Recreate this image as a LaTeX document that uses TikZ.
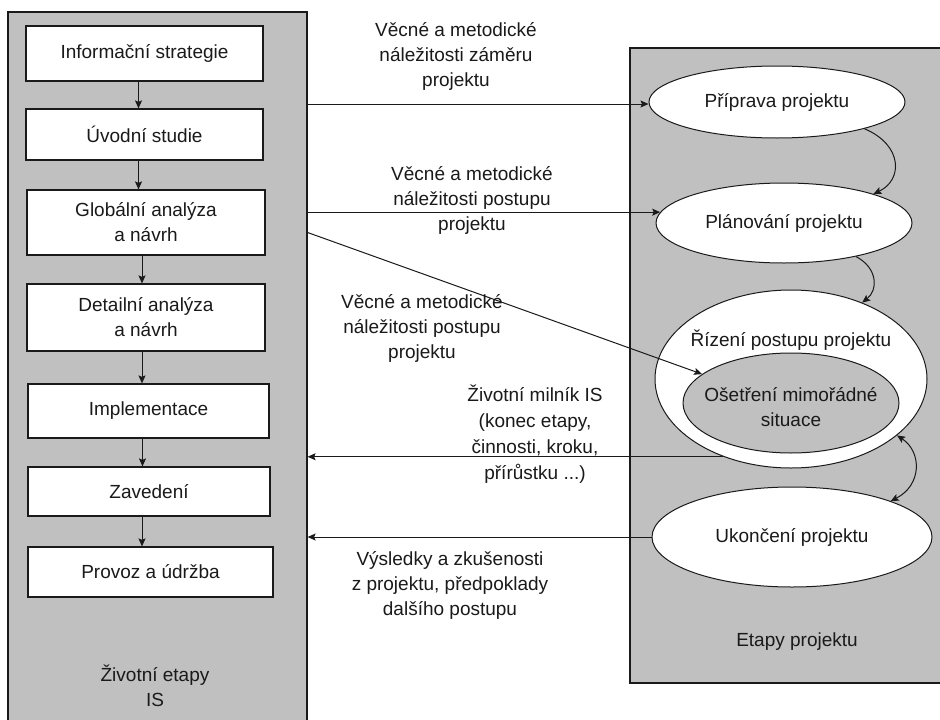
\documentclass[tikz,border=0pt]{standalone}
\usepackage{fontspec}
\setmainfont{Liberation Sans}
\usetikzlibrary{arrows.meta,shapes.geometric}
\definecolor{panelgray}{HTML}{C0C0C0}
\definecolor{ink}{HTML}{1A1A1A}

\begin{document}
\begin{tikzpicture}[x=1pt,y=-1pt,
  >={Stealth[length=8pt,width=7pt,inset=1.5pt]},
  txt/.style={font=\fontsize{19}{25}\selectfont, text=ink, align=center, inner sep=0pt},
  panel/.style={draw=ink, fill=panelgray, line width=1.2pt, inner sep=0pt},
  stage/.style={rectangle, draw=ink, fill=white, line width=1.2pt, txt},
  phase/.style={ellipse, draw=ink, fill=white, line width=1pt, txt},
  conn/.style={draw=ink, line width=1pt, ->},
]
\useasboundingbox (0,0) rectangle (940,720);
\clip (0,0) rectangle (940,720);
\fill[white] (0,0) rectangle (940,720);

% the two grey panels (their lower and right edges run off the page)
\node[panel, minimum width=299pt, minimum height=740pt] (lp) at (157.5,382) {};
\node[panel, minimum width=340pt, minimum height=635pt] (rp) at (800,365.5) {};

% life stages of the information system
\node[stage, minimum width=237pt, minimum height=55pt] (s1) at (144.5,53.5) {Informační strategie};
\node[stage, minimum width=237pt, minimum height=51pt] (s2) at (144.5,134.5) {Úvodní studie};
\node[stage, minimum width=238pt, minimum height=65pt] (s3) at (146,222.5) {Globální analýza\\a návrh};
\node[stage, minimum width=238pt, minimum height=67pt] (s4) at (146,317.5) {Detailní analýza\\a návrh};
\node[stage, minimum width=241pt, minimum height=54pt] (s5) at (148.5,411) {Implementace};
\node[stage, minimum width=242pt, minimum height=49pt] (s6) at (149,491.5) {Zavedení};
\node[stage, minimum width=245pt, minimum height=50pt] (s7) at (150.5,572) {Provoz a údržba};
\node[txt] (lpl) at (155,686) {Životní etapy\\IS};

\draw[conn] ([xshift=-6pt]s1.south) -- ([xshift=-6pt]s1.south |- s2.north);
\draw[conn] ([xshift=-6pt]s2.south) -- ([xshift=-6pt]s2.south |- s3.north);
\draw[conn] ([xshift=-4pt]s3.south) -- ([xshift=-4pt]s3.south |- s4.north);
\draw[conn] ([xshift=-4pt]s4.south) -- ([xshift=-4pt]s4.south |- s5.north);
\draw[conn] ([xshift=-6pt]s5.south) -- ([xshift=-6pt]s5.south |- s6.north);
\draw[conn] ([xshift=-7pt]s6.south) -- ([xshift=-7pt]s6.south |- s7.north);

% project phases
\node[phase, minimum width=256pt, minimum height=72pt] (pp) at (777,102) {Příprava projektu};
\node[phase, minimum width=256pt, minimum height=80pt] (pl) at (784,223) {Plánování projektu};
\node[phase, minimum width=272pt, minimum height=178pt] (rz) at (791,379) {};
\node[txt] (rzl) at (791,340) {Řízení postupu projektu};
\node[phase, fill=panelgray, minimum width=216pt, minimum height=100pt] (os) at (791,403) {};
\node[txt] (osl) at (791,407) {Ošetření mimořádné\\situace};
\node[phase, minimum width=280pt, minimum height=100pt] (uk) at (792,537) {Ukončení projektu};
\node[txt] (rpl) at (797,642) {Etapy projektu};

\draw[conn] (pp.-17) .. controls (903,145) and (903,180) .. (pl.18);
\draw[conn] (pl.-25) .. controls (878,268) and (878,290) .. (rz.47);
\draw[conn, <->] (rz.-28) .. controls (922,452) and (922,485) .. (uk.20);

% flows between the two panels
\draw[conn] ([yshift=-2pt]lp.east |- pp.west) -- ([yshift=-2pt]pp.west);
\draw[conn] (lp.east |- pl.175) -- (pl.175);
\draw[conn] ([yshift=-10pt]lp.east |- s3.center) -- (os.162);
\draw[conn] (rz.229) -- (lp.east |- rz.229);
\draw[conn] (uk.west) -- (lp.east |- uk.west);

\node[txt] (l1) at (456,56) {Věcné a metodické\\náležitosti záměru\\projektu};
\node[txt] (l2) at (472,200) {Věcné a metodické\\náležitosti postupu\\projektu};
\node[txt] (l3) at (422,328) {Věcné a metodické\\náležitosti postupu\\projektu};
\node[txt, font=\fontsize{19}{26}\selectfont] (l4) at (535,434) {Životní milník IS\\(konec etapy,\\činnosti, kroku,\\přírůstku ...)};
\node[txt] (l5) at (450,585) {Výsledky a zkušenosti\\z projektu, předpoklady\\dalšího postupu};
\end{tikzpicture}
\end{document}
